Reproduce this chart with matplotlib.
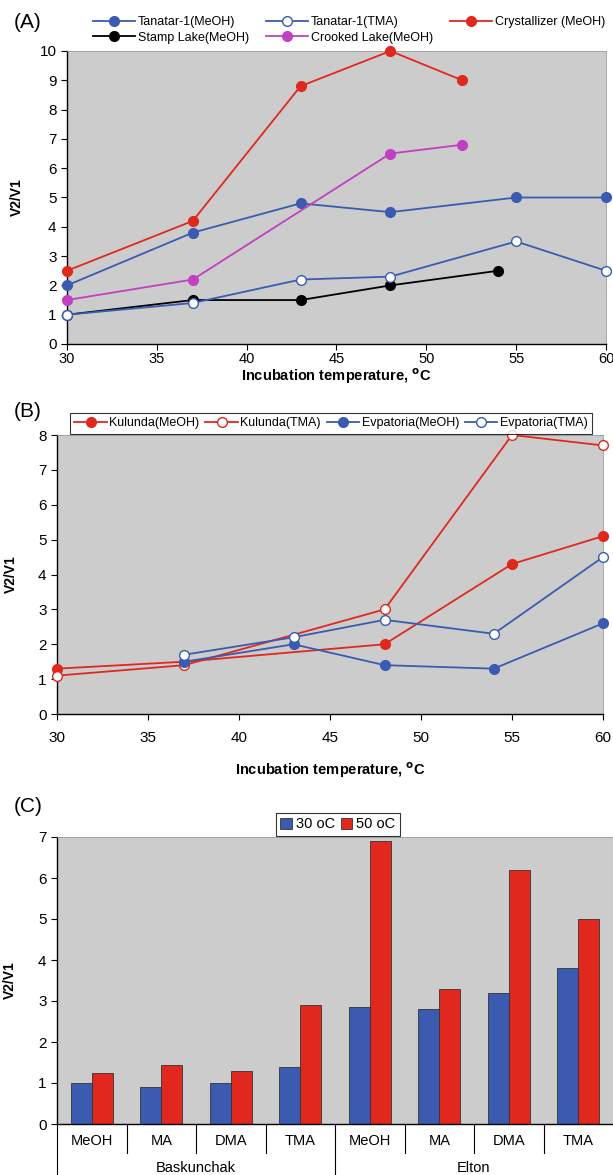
import matplotlib.pyplot as plt

plt.rcParams['font.family'] = ['Liberation Sans', 'DejaVu Sans']

BLUE = '#3a5bb0'
RED = '#e0281e'
MAGENTA = '#c040c0'
GRAY = '#cccccc'

# Panel A data
tan_meoh_x = [30, 37, 43, 48, 55, 60]
tan_meoh_y = [2.0, 3.8, 4.8, 4.5, 5.0, 5.0]
tan_tma_x = [30, 37, 43, 48, 55, 60]
tan_tma_y = [1.0, 1.4, 2.2, 2.3, 3.5, 2.5]
cryst_x = [30, 37, 43, 48, 52]
cryst_y = [2.5, 4.2, 8.8, 10.0, 9.0]
stamp_x = [30, 37, 43, 48, 54]
stamp_y = [1.0, 1.5, 1.5, 2.0, 2.5]
crooked_x = [30, 37, 48, 52]
crooked_y = [1.5, 2.2, 6.5, 6.8]

# Panel B data
kul_meoh_x = [30, 37, 48, 55, 60]
kul_meoh_y = [1.3, 1.5, 2.0, 4.3, 5.1]
kul_tma_x = [30, 37, 48, 55, 60]
kul_tma_y = [1.1, 1.4, 3.0, 8.0, 7.7]
evp_meoh_x = [37, 43, 48, 54, 60]
evp_meoh_y = [1.5, 2.0, 1.4, 1.3, 2.6]
evp_tma_x = [37, 43, 48, 54, 60]
evp_tma_y = [1.7, 2.2, 2.7, 2.3, 4.5]

# Panel C data
substrates = ['MeOH', 'MA', 'DMA', 'TMA', 'MeOH', 'MA', 'DMA', 'TMA']
lakes = ['Baskunchak', 'Elton']
v_30 = [1.0, 0.9, 1.0, 1.4, 2.85, 2.8, 3.2, 3.8]
v_50 = [1.25, 1.45, 1.3, 2.9, 6.9, 3.3, 6.2, 5.0]

temp_ticks = [30, 35, 40, 45, 50, 55, 60]
xlabel = r'Incubation temperature, $^{\mathbf{o}}$C'

fig = plt.figure(figsize=(6.13, 11.75), dpi=100)
W, H = 613, 1175


def add_ax(l, t, r, b):
    return fig.add_axes([l / W, 1 - b / H, (r - l) / W, (b - t) / H])


def style(ax):
    ax.set_facecolor(GRAY)
    for s in ['top', 'right']:
        ax.spines[s].set_color('#999999')
        ax.spines[s].set_linewidth(0.6)
    for s in ['left', 'bottom']:
        ax.spines[s].set_linewidth(1.0)
    ax.tick_params(labelsize=11, length=4, width=0.8)
    ax.set_ylabel('V2/V1', fontsize=10, fontweight='bold')


def line(ax, x, y, c, label, filled=True):
    ax.plot(x, y, '-o', color=c, lw=1.3, ms=7, mec=c,
            mfc=c if filled else 'white', mew=1.0, label=label, clip_on=False, zorder=3)


# ---- Panel A ----
axA = add_ax(67, 51, 606, 344)
style(axA)
line(axA, tan_meoh_x, tan_meoh_y, BLUE, 'Tanatar-1(MeOH)')
line(axA, stamp_x, stamp_y, 'black', 'Stamp Lake(MeOH)')
line(axA, tan_tma_x, tan_tma_y, BLUE, 'Tanatar-1(TMA)', filled=False)
line(axA, crooked_x, crooked_y, MAGENTA, 'Crooked Lake(MeOH)')
line(axA, cryst_x, cryst_y, RED, 'Crystallizer (MeOH)')
axA.set_xlim(30, 60)
axA.set_ylim(0, 10)
axA.set_yticks(range(0, 11))
axA.set_xticks(temp_ticks)
axA.tick_params(axis='x', pad=2, labelsize=10.5)
axA.set_xlabel(xlabel, fontsize=10.5, fontweight='bold', labelpad=0)
axA.yaxis.set_label_coords(-0.08, 0.5)
axA.legend(loc='lower left', bbox_to_anchor=(0.035, 1.0), ncol=3, frameon=False,
           fontsize=9, handlelength=3.3, columnspacing=1.4, labelspacing=0.25,
           handletextpad=0.25, borderaxespad=0.2)
fig.text(14 / W, 1 - 22 / H, '(A)', fontsize=15, va='center')

# ---- Panel B ----
axB = add_ax(57, 435, 603, 714)
style(axB)
line(axB, kul_meoh_x, kul_meoh_y, RED, 'Kulunda(MeOH)')
line(axB, kul_tma_x, kul_tma_y, RED, 'Kulunda(TMA)', filled=False)
line(axB, evp_meoh_x, evp_meoh_y, BLUE, 'Evpatoria(MeOH)')
line(axB, evp_tma_x, evp_tma_y, BLUE, 'Evpatoria(TMA)', filled=False)
axB.set_xlim(30, 60)
axB.set_ylim(0, 8)
axB.set_yticks(range(0, 9))
axB.set_xticks(temp_ticks)
axB.tick_params(axis='x', pad=8)
axB.set_xlabel(xlabel, fontsize=10.5, fontweight='bold', labelpad=11)
axB.yaxis.set_label_coords(-0.072, 0.5)
legB = axB.legend(loc='lower left', bbox_to_anchor=(0.024, 1.005, 0.956, 0.1), ncol=4,
                  mode='expand', fontsize=9, handlelength=2.6, columnspacing=0.5,
                  handletextpad=0.2, borderaxespad=0.0, fancybox=False,
                  edgecolor='black', borderpad=0.35)
legB.get_frame().set_linewidth(0.8)
fig.text(14 / W, 1 - 412 / H, '(B)', fontsize=15, va='center')

# ---- Panel C ----
axC = add_ax(57, 837, 613, 1124)
style(axC)
pos = list(range(len(substrates)))
bw = 0.3
axC.bar([p - bw / 2 for p in pos], v_30, width=bw, color=BLUE, edgecolor='#333333',
        linewidth=0.6, label='30 oC', zorder=2)
axC.bar([p + bw / 2 for p in pos], v_50, width=bw, color=RED, edgecolor='#333333',
        linewidth=0.6, label='50 oC', zorder=2)
axC.set_xlim(-0.5, len(substrates) - 0.5)
axC.set_ylim(0, 7)
axC.set_yticks(range(0, 8))
axC.set_xticks([])
axC.yaxis.set_label_coords(-0.072, 0.5)
xt = axC.get_xaxis_transform()
for p, s in zip(pos, substrates):
    axC.text(p, -0.06, s, transform=xt, ha='center', va='center', fontsize=10.5)
for b in range(len(substrates)):
    if b % 4 == 0:
        axC.plot([b - 0.5, b - 0.5], [0, -0.25], transform=xt, color='black',
                 lw=0.8, clip_on=False)
    else:
        axC.plot([b - 0.5, b - 0.5], [0, -0.1], transform=xt, color='black',
                 lw=0.8, clip_on=False)
for g, lake in enumerate(lakes):
    axC.text(g * 4 + 1.5, -0.155, lake, transform=xt, ha='center', va='center',
             fontsize=10.5)
legC = axC.legend(loc='lower center', bbox_to_anchor=(0.505, 1.005), ncol=2,
                  fontsize=10.5, handlelength=0.8, handleheight=0.8,
                  handletextpad=0.25, columnspacing=0.4, fancybox=False,
                  edgecolor='black', borderpad=0.3, borderaxespad=0.0)
legC.get_frame().set_linewidth(0.8)
fig.text(14 / W, 1 - 806 / H, '(C)', fontsize=15, va='center')

fig.savefig('out.png', dpi=100)
